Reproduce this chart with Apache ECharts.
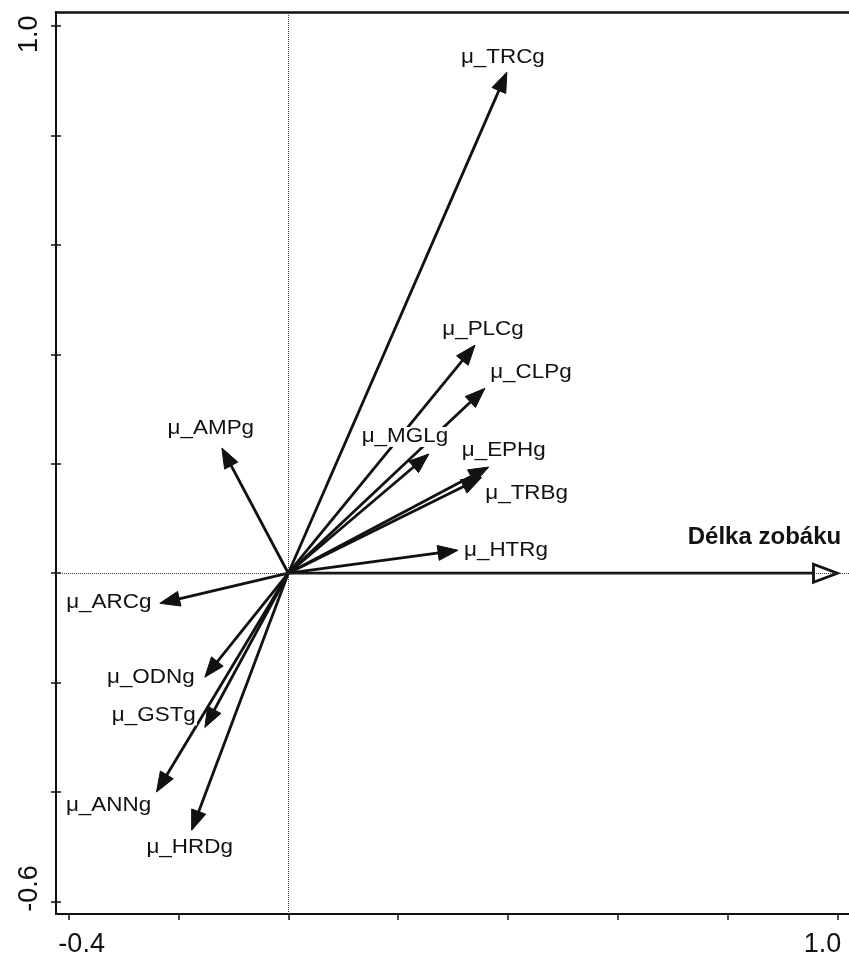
<!DOCTYPE html>
<html>
<head>
<meta charset="utf-8">
<script src="https://cdn.jsdelivr.net/npm/echarts@6/dist/echarts.min.js"></script>
<style>
  html, body { margin: 0; padding: 0; background: #fff; }
  #chart { width: 849px; height: 956px; }
</style>
</head>
<body>
<div id="chart"></div>
<script>
// Ordination biplot: trait vectors and the bill-length vector (Délka zobáku)
const traitNames = ['μ_TRCg', 'μ_PLCg', 'μ_CLPg', 'μ_MGLg', 'μ_EPHg', 'μ_TRBg', 'μ_HTRg',
                    'μ_AMPg', 'μ_ARCg', 'μ_ODNg', 'μ_GSTg', 'μ_ANNg', 'μ_HRDg'];
const traitX = [0.398, 0.340, 0.358, 0.256, 0.365, 0.352, 0.309,
                -0.121, -0.234, -0.152, -0.152, -0.240, -0.176];
const traitY = [0.916, 0.417, 0.338, 0.218, 0.194, 0.175, 0.042,
                0.229, -0.055, -0.190, -0.282, -0.400, -0.470];
const envNames = ['Délka zobáku'];
const envX = [1.0];
const envY = [0.0];
const xTickValues = [-0.4, -0.2, 0, 0.2, 0.4, 0.6, 0.8, 1.0];
const yTickValues = [-0.6, -0.4, -0.2, 0, 0.2, 0.4, 0.6, 0.8, 1.0];
const xLabelValues = [-0.4, 1.0];
const yLabelValues = [-0.6, 1.0];

// label placement relative to each arrow tip (pixels)
const labelOffset = {
  'μ_TRCg': [-4, -15], 'μ_PLCg': [8, -15], 'μ_CLPg': [46, -16], 'μ_MGLg': [-24, -17],
  'μ_EPHg': [15, -16], 'μ_TRBg': [45, 16], 'μ_HTRg': [48, 0], 'μ_AMPg': [-11, -19],
  'μ_ARCg': [-51, -1], 'μ_ODNg': [-54, 0], 'μ_GSTg': [-51, -12], 'μ_ANNg': [-48, 14],
  'μ_HRDg': [-2, 17], 'Délka zobáku': [-73, -36]
};

const FONT = '"Liberation Sans", Arial, Helvetica, sans-serif';
const INK = '#111';

const allNames = traitNames.concat(envNames);
const vectorData = traitX.map((x, i) => [x, traitY[i], 0])
  .concat(envX.map((x, i) => [x, envY[i], 1]));

function arrowItem(params, api) {
  const o = api.coord([0, 0]);
  const t = api.coord([api.value(0), api.value(1)]);
  const hollow = api.value(2) === 1;
  const dx = t[0] - o[0], dy = t[1] - o[1];
  const len = Math.hypot(dx, dy);
  const ux = dx / len, uy = dy / len;
  const headLen = hollow ? 24 : 20;
  const headW = hollow ? 9 : 7.5;
  const bx = t[0] - ux * headLen, by = t[1] - uy * headLen;
  const px = -uy, py = ux;
  const stop = hollow ? headLen : headLen * 0.5;
  return {
    type: 'group',
    children: [
      {
        type: 'line',
        shape: { x1: o[0], y1: o[1], x2: t[0] - ux * stop, y2: t[1] - uy * stop },
        style: { stroke: INK, lineWidth: 2.8 }
      },
      {
        type: 'polygon',
        shape: { points: [[t[0], t[1]], [bx + px * headW, by + py * headW], [bx - px * headW, by - py * headW]] },
        style: hollow
          ? { fill: 'transparent', stroke: INK, lineWidth: 2.8, lineJoin: 'miter' }
          : { fill: INK, stroke: INK, lineWidth: 1, lineJoin: 'miter' }
      }
    ]
  };
}

function labelItem(params, api) {
  const name = allNames[params.dataIndex];
  const t = api.coord([api.value(0), api.value(1)]);
  const off = labelOffset[name];
  const env = envNames.indexOf(name) >= 0;
  return {
    type: 'text',
    x: t[0] + off[0],
    y: t[1] + off[1],
    scaleX: env ? 1 : 1.15,
    style: {
      text: name,
      font: (env ? 'bold 24px ' : '19.5px ') + FONT,
      fill: INK,
      align: 'center',
      verticalAlign: 'middle',
      backgroundColor: env ? 'transparent' : '#fff',
      padding: [0, 1]
    }
  };
}

function fmtNum(v) { return (Math.round(v * 10) / 10).toFixed(1); }

const chart = echarts.init(document.getElementById('chart'));
chart.setOption({
  animation: false,
  backgroundColor: '#fff',
  grid: { left: 56, right: 0, top: 12, bottom: 42, containLabel: false, outerBoundsMode: 'none' },
  xAxis: [
    {
      type: 'value', min: -0.423, max: 1.021, position: 'bottom',
      axisLine: { onZero: false, lineStyle: { color: INK, width: 2 } },
      axisTick: { customValues: xTickValues, length: 6, lineStyle: { color: INK, width: 1.5 } },
      axisLabel: {
        customValues: xLabelValues, margin: 17, color: INK, fontFamily: FONT, fontSize: 27,
        formatter: v => (v < 0 ? '{lo|' : '{hi|') + fmtNum(v) + '}',
        rich: {
          lo: { fontSize: 27, fontFamily: FONT, color: INK, padding: [0, 0, 0, 26] },
          hi: { fontSize: 27, fontFamily: FONT, color: INK, padding: [0, 30, 0, 0] }
        }
      },
      splitLine: { show: false }
    },
    {
      type: 'value', min: -0.423, max: 1.021, position: 'top',
      axisLine: { onZero: false, lineStyle: { color: INK, width: 2.5 } },
      axisTick: { show: false }, axisLabel: { show: false }, splitLine: { show: false }
    }
  ],
  yAxis: [
    {
      type: 'value', min: -0.623, max: 1.026, position: 'left',
      axisLine: { onZero: false, lineStyle: { color: INK, width: 2 } },
      axisTick: { customValues: yTickValues, length: 5, lineStyle: { color: INK, width: 1.5 } },
      axisLabel: {
        customValues: yLabelValues, rotate: 90, margin: 13, color: INK, fontFamily: FONT, fontSize: 27,
        formatter: v => (v < 0 ? '{lo|' : '{hi|') + fmtNum(v) + '}',
        rich: {
          lo: { fontSize: 27, fontFamily: FONT, color: INK, padding: [0, 0, 0, 26] },
          hi: { fontSize: 27, fontFamily: FONT, color: INK, padding: [0, 16, 0, 0] }
        }
      },
      splitLine: { show: false }
    },
    {
      type: 'value', min: -0.623, max: 1.026, position: 'left',
      axisLine: { show: false, onZero: false },
      axisTick: { customValues: yTickValues, inside: true, length: 5, lineStyle: { color: INK, width: 1.5 } },
      axisLabel: { show: false }, splitLine: { show: false }
    }
  ],
  series: [
    {
      type: 'line', data: [], z: 1, silent: true,
      markLine: {
        silent: true, symbol: ['none', 'none'], animation: false,
        label: { show: false },
        lineStyle: { type: 'dotted', color: '#333', width: 1 },
        data: [{ xAxis: 0 }, { yAxis: 0 }]
      }
    },
    {
      type: 'custom', z: 2, clip: false, silent: true,
      renderItem: arrowItem,
      encode: { x: 0, y: 1 },
      data: vectorData
    },
    {
      type: 'custom', z: 3, clip: false, silent: true,
      renderItem: labelItem,
      encode: { x: 0, y: 1 },
      data: vectorData
    }
  ]
});
</script>
</body>
</html>
